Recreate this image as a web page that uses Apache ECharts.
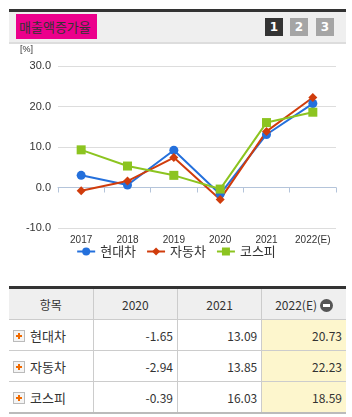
<!DOCTYPE html>
<html>
<head>
<meta charset="utf-8">
<script src="https://cdn.jsdelivr.net/npm/echarts@6/dist/echarts.min.js"></script>
<style>
body{margin:0;width:352px;height:417px;background:#fff;font-family:"Noto Sans CJK KR","Noto Sans",sans-serif;color:#333;position:relative;overflow:hidden}
.head{position:absolute;left:9px;top:9px;width:337px;height:30px;border-top:3px solid #333;border-bottom:2px solid #ddd;background:#efefef}
.ttl{position:absolute;left:7px;top:2px;width:81px;height:25px;background:#ec008c;font-size:13px;line-height:25px;padding-left:3px;box-sizing:border-box;color:#333}
.btn{position:absolute;top:6px;width:18px;height:18px;font:bold 12px/18px "DejaVu Sans",sans-serif;text-align:center;color:#fff;background:#a5a5a5}
.btn.on{background:#333}
#chart{position:absolute;left:0;top:0;width:352px;height:265px}
table{position:absolute;left:9px;top:286px;width:337px;border-collapse:collapse;border-top:3px solid #333;border-bottom:2px solid #bbb;table-layout:fixed}
td,th{border:1px solid #ccc;height:30px;padding:0 4px 0 0;font-size:12px;font-weight:normal}
tr td:first-child,tr th:first-child{border-left:none}
tr td:last-child,tr th:last-child{border-right:none}
th{background:#efefef;text-align:center;padding:0}
td{text-align:right}
td.nm{text-align:left;font-size:13px;padding-left:4px}
td.e{background:#fdf6cd}
.plus{display:inline-block;width:10px;height:10px;border:1px solid #bbb;background:#f4f4f4;vertical-align:-1px;margin-right:5px;position:relative}
.plus:before{content:"";position:absolute;left:2px;top:4px;width:6px;height:2px;background:#f06a00}
.plus:after{content:"";position:absolute;left:4px;top:2px;width:2px;height:6px;background:#f06a00}
.minus{display:inline-block;width:13px;height:13px;border-radius:50%;background:#555;vertical-align:-2px;margin-left:3px;position:relative}
.minus:after{content:"";position:absolute;left:3px;top:5px;width:7px;height:3px;background:#fff}
</style>
</head>
<body>
<div id="chart"></div>
<div class="head">
  <div class="ttl">매출액증가율</div>
  <div class="btn on" style="left:256px">1</div>
  <div class="btn" style="left:281px">2</div>
  <div class="btn" style="left:307px">3</div>
</div>
<table id="tbl"></table>
<script>
var years = ['2017', '2018', '2019', '2020', '2021', '2022(E)'];
var names = ['현대차', '자동차', '코스피'];
var hyundai = [3.0, 0.6, 9.2, -1.65, 13.09, 20.73];
var auto = [-0.8, 1.6, 7.4, -2.94, 13.85, 22.23];
var kospi = [9.3, 5.3, 3.0, -0.39, 16.03, 18.59];
var tableYears = ['2020', '2021', '2022(E)'];
var yTicks = { min: -10, max: 30, interval: 10 };

// table below the chart
var rows = [hyundai, auto, kospi];
var html = '<tr><th>항목</th>';
tableYears.forEach(function (y, i) {
    html += '<th>' + y + (i == tableYears.length - 1 ? '<span class="minus"></span>' : '') + '</th>';
});
html += '</tr>';
names.forEach(function (n, r) {
    html += '<tr><td class="nm"><span class="plus"></span>' + n + '</td>';
    tableYears.forEach(function (y, i) {
        var v = rows[r][years.indexOf(y)];
        html += '<td' + (i == tableYears.length - 1 ? ' class="e"' : '') + '>' + v.toFixed(2) + '</td>';
    });
    html += '</tr>';
});
document.getElementById('tbl').innerHTML = html;

var myChart = echarts.init(document.getElementById('chart'));
var colors = ['#2470dc', '#d03c0c', '#8cc420'];
var symbols = ['circle', 'diamond', 'rect'];
var option = {
    color: colors,
    textStyle: { fontFamily: 'Noto Sans CJK KR' },
    grid: { left: 58, right: 16, top: 66, bottom: 37 },
    graphic: [{
        type: 'text', left: 20, top: 45,
        style: { text: '[%]', fontSize: 9, fill: '#333', fontFamily: 'Liberation Sans' }
    }],
    legend: {
        bottom: 2,
        itemGap: 10,
        itemWidth: 18,
        itemHeight: 10,
        selectedMode: false,
        textStyle: { fontSize: 13, color: '#333' },
        data: names
    },
    xAxis: {
        type: 'category',
        data: years,
        boundaryGap: true,
        axisLine: { lineStyle: { color: '#b4c4da', width: 1 } },
        axisTick: { show: true, length: 5, lineStyle: { color: '#b4c4da' } },
        axisLabel: { interval: 0, fontSize: 10, color: '#333', margin: 7, fontFamily: 'Liberation Sans' }
    },
    yAxis: {
        type: 'value',
        min: yTicks.min,
        max: yTicks.max,
        interval: yTicks.interval,
        axisLine: { show: false },
        axisTick: { show: false },
        axisLabel: {
            fontSize: 11, color: '#333', margin: 7, fontFamily: 'Liberation Sans',
            formatter: function (v) { return v.toFixed(1); }
        },
        splitLine: { lineStyle: { color: '#dddddd' } }
    },
    series: [hyundai, auto, kospi].map(function (d, i) {
        return {
            name: names[i],
            type: 'line',
            data: d,
            symbol: symbols[i],
            symbolSize: 9,
            lineStyle: { width: 2 },
            itemStyle: { color: colors[i] },
            animation: false
        };
    })
};
myChart.setOption(option);
</script>
</body>
</html>
